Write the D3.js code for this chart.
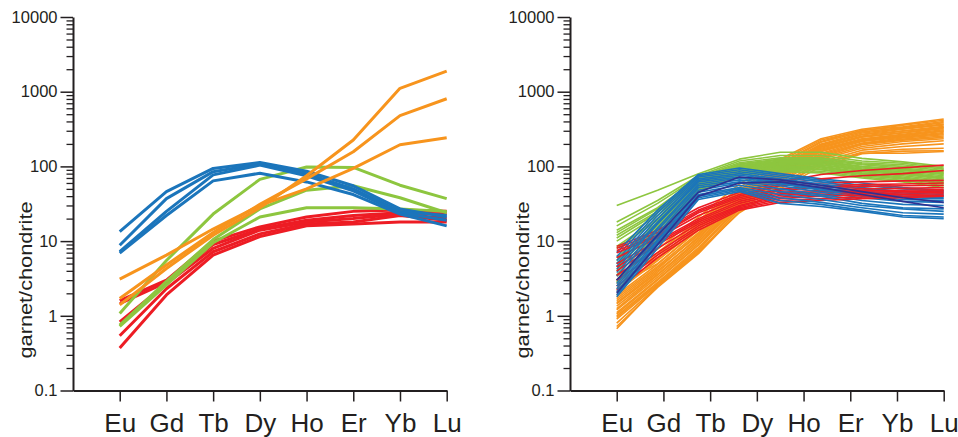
<!DOCTYPE html>
<html>
<head>
<meta charset="utf-8">
<script src="https://cdn.jsdelivr.net/npm/d3@7"></script>
<style>
  body { margin: 0; background: #fff; }
  text { font-family: "Liberation Sans", Arial, Helvetica, sans-serif; fill: #231f20; }
</style>
</head>
<body>
<svg id="chart" width="958" height="437"></svg>
<script>
// element labels on the x axis
const elements = ["Eu", "Gd", "Tb", "Dy", "Ho", "Er", "Yb", "Lu"];
// right panel has one more point per line (Tm), spread evenly over the same span
const rightElements = ["Eu", "Gd", "Tb", "Dy", "Ho", "Er", "Tm", "Yb", "Lu"];
const yTicks = [0.1, 1, 10, 100, 1000, 10000];

const colors = { blue: "#1b75bb", orange: "#f7941d", green: "#8dc63f", red: "#ed1c24", navy: "#2e3192" };

// ---- left panel (Eu Gd Tb Dy Ho Er Yb Lu) ----
const leftRed = [
  [1.6, 3.0, 10, 15.5, 21, 25, 26, 25],
  [1.45, 2.8, 9, 14.5, 19, 22, 24, 23],
  [0.83, 2.7, 8, 14, 18, 20, 23, 20],
  [0.54, 2.3, 7.2, 12.5, 17, 18, 22, 19],
  [0.37, 1.9, 6.5, 11.5, 16, 17, 18, 18],
];
const leftGreen = [
  [1.07, 5.5, 23, 67, 98, 97, 56, 37],
  [0.75, 2.9, 10.5, 27, 48, 55, 38, 24],
  [0.72, 2.6, 9.5, 21, 28, 28, 27, 25],
];
const leftBlue = [
  [13.4, 46, 94, 113, 86, 55, 27, 21],
  [8.8, 37, 85, 108, 80, 50, 25, 22],
  [7.2, 25, 77, 104, 75, 47, 24, 19],
  [6.9, 22, 64, 81, 62, 42, 23, 16],
];
const leftOrange = [
  [3.1, 6.5, 14.5, 30, 50, 94, 195, 242],
  [1.7, 4.8, 13, 31, 68, 157, 478, 805],
  [1.4, 4.3, 12, 28, 75, 226, 1110, 1890],
];

// ---- right panel (Eu Gd Tb Dy Ho Er Tm Yb Lu) ----
const rightOrange = [
  [3.4, 7.8, 21, 58, 125, 235, 315, 365, 430],
  [3.0, 7.0, 19, 52, 118, 225, 300, 355, 415],
  [2.7, 6.6, 18, 48, 110, 215, 305, 340, 400],
  [2.9, 6.0, 16, 44, 105, 210, 290, 330, 385],
  [2.3, 5.8, 17, 46, 100, 200, 280, 320, 370],
  [2.1, 5.5, 15, 42, 98, 195, 270, 315, 360],
  [2.5, 5.0, 14, 40, 95, 190, 265, 300, 345],
  [1.9, 4.9, 14.5, 41, 92, 185, 255, 295, 335],
  [1.8, 4.6, 13, 38, 90, 180, 250, 285, 330],
  [1.7, 4.4, 12, 36, 88, 175, 245, 280, 320],
  [1.6, 4.2, 12.5, 37, 85, 170, 235, 270, 310],
  [1.5, 4.0, 11, 35, 82, 165, 230, 262, 300],
  [1.45, 3.8, 11.5, 34, 80, 160, 225, 255, 295],
  [1.35, 3.6, 10.5, 33, 78, 158, 220, 250, 285],
  [1.25, 3.5, 10, 32, 75, 150, 215, 245, 275],
  [1.2, 3.3, 9.5, 31, 72, 145, 205, 240, 265],
  [1.1, 3.1, 9, 30, 70, 140, 200, 232, 255],
  [1.05, 3.0, 8.8, 31, 68, 135, 195, 225, 245],
  [1.0, 2.8, 8.2, 29, 65, 130, 185, 215, 235],
  [0.95, 2.7, 7.8, 28, 62, 125, 175, 200, 220],
  [0.9, 2.6, 7.5, 30, 58, 115, 165, 185, 200],
  [0.8, 2.5, 7.0, 27, 55, 108, 155, 170, 175],
  [0.72, 2.4, 6.8, 25, 50, 100, 148, 160, 162],
  [0.67, 2.5, 7.2, 24, 52, 110, 150, 150, 158],
];
const rightRed = [
  [8.5, 14, 28, 45, 62, 78, 88, 96, 104],
  [8.0, 13, 26, 42, 58, 68, 75, 80, 88],
  [7.5, 12, 25, 40, 55, 60, 62, 64, 65],
  [7.0, 11.5, 24, 38, 50, 55, 57, 58, 60],
  [6.0, 11, 22, 36, 48, 52, 54, 55, 56],
  [5.0, 10, 20, 34, 45, 48, 50, 51, 52],
  [4.5, 9.5, 19, 32, 43, 46, 47, 48, 49],
  [4.0, 9, 18, 30, 41, 44, 45, 46, 47],
  [3.5, 8, 17, 29, 39, 42, 43, 44, 45],
  [3.0, 7, 16, 28, 37, 40, 41, 42, 43],
  [2.5, 6.5, 15, 27, 35, 37, 39, 40, 41],
  [2.2, 6, 14, 26, 33, 35, 37, 38, 40],
];
const rightGreen = [
  [30, 48, 80, 125, 155, 155, 128, 115, 100],
  [18, 35, 75, 118, 140, 140, 118, 110, 95],
  [16, 32, 72, 112, 130, 130, 112, 105, 92],
  [14, 28, 70, 108, 125, 125, 108, 100, 88],
  [13, 27, 68, 105, 122, 120, 105, 95, 85],
  [12, 25, 66, 102, 118, 118, 100, 92, 82],
  [11, 24, 64, 100, 115, 115, 98, 90, 80],
  [10, 22, 62, 98, 112, 112, 95, 88, 78],
  [8.5, 20, 60, 96, 110, 110, 92, 85, 75],
  [8, 19, 58, 94, 108, 106, 90, 82, 72],
  [6, 18, 56, 92, 105, 104, 88, 80, 70],
  [5.5, 17, 55, 90, 102, 100, 85, 78, 68],
  [5, 16, 54, 88, 100, 98, 82, 75, 65],
  [4.5, 15, 52, 86, 98, 95, 80, 72, 62],
  [4, 14, 50, 84, 95, 92, 78, 70, 60],
  [3.5, 13, 48, 82, 92, 90, 75, 68, 58],
  [3, 12, 46, 80, 88, 86, 72, 65, 55],
  [2.8, 11, 45, 76, 85, 82, 70, 62, 52],
];
const rightBlue = [
  [7, 26, 78, 95, 80, 68, 60, 52, 48],
  [6.2, 24, 75, 90, 76, 65, 56, 50, 46],
  [5.5, 22, 72, 85, 72, 62, 52, 46, 44],
  [5.0, 20, 68, 80, 68, 58, 50, 44, 42],
  [4.6, 18, 65, 76, 66, 55, 47, 42, 40],
  [4.2, 17, 62, 72, 62, 52, 44, 40, 38],
  [3.8, 15, 58, 70, 60, 50, 42, 38, 37],
  [3.4, 14, 55, 66, 58, 48, 40, 36, 35],
  [3.0, 12.5, 52, 62, 55, 45, 38, 34, 33],
  [2.7, 11.5, 48, 60, 50, 42, 35, 31, 30],
  [2.5, 10.5, 45, 56, 46, 40, 32, 28, 27],
  [2.3, 10, 42, 52, 42, 36, 30, 27, 25],
  [2.1, 9.5, 40, 50, 38, 33, 28, 24, 23],
  [1.9, 8.8, 38, 48, 35, 31, 26, 22, 21],
  [1.8, 8, 36, 46, 32, 29, 25, 21, 20],
];
const rightNavy = [
  [2.0, 9, 40, 60, 62, 52, 42, 34, 28],
  [3.0, 12, 45, 72, 66, 56, 46, 38, 33],
];

const svg = d3.select("#chart");

const y = d3.scaleLog().domain([0.1, 10000]).range([390.5, 17]);

const minorTicks = [];
for (let p = -1; p < 4; p++) {
  for (let m = 2; m <= 9; m++) minorTicks.push(m * Math.pow(10, p));
}

// mix several groups so their lines are drawn interleaved, one row from each in turn
function interleave(groups) {
  const out = [];
  const n = d3.max(groups, (grp) => grp.rows.length);
  for (let i = 0; i < n; i++) {
    groups.forEach((grp) => {
      if (grp.rows[i]) out.push({ color: grp.color, values: grp.rows[i] });
    });
  }
  return out;
}

function drawPanel(axisX, lines, pointLabels, lineWidth) {
  const g = svg.append("g");

  // category positions: axis sits one step left of Eu, last tick at Lu
  const x = d3.scaleLinear().domain([0, elements.length]).range([axisX, axisX + 373.7]);
  // data points spread evenly between Eu and Lu
  const xp = d3.scaleLinear().domain([0, pointLabels.length - 1]).range([x(1), x(elements.length)]);

  const line = d3.line()
    .x((d, i) => xp(i))
    .y((d) => y(d));

  g.append("g")
    .selectAll("path")
    .data(lines)
    .join("path")
    .attr("fill", "none")
    .attr("stroke", (d) => d.color)
    .attr("stroke-width", lineWidth)
    .attr("stroke-linejoin", "round")
    .attr("d", (d) => line(d.values));

  // y axis, major ticks
  const yAxis = g.append("g")
    .attr("transform", `translate(${axisX},0)`)
    .call(d3.axisLeft(y).tickValues(yTicks).tickSize(12.5).tickSizeOuter(0).tickPadding(3)
      .tickFormat((d) => String(d)));
  yAxis.select(".domain").attr("stroke", "#231f20").attr("stroke-width", 2);
  yAxis.selectAll(".tick line").attr("stroke", "#231f20").attr("stroke-width", 1.5);
  yAxis.selectAll(".tick text").attr("font-size", 16.5).attr("font-family", null);

  // y axis, minor ticks
  const yMinor = g.append("g")
    .attr("transform", `translate(${axisX},0)`)
    .call(d3.axisLeft(y).tickValues(minorTicks).tickSize(6.5).tickSizeOuter(0).tickFormat(""));
  yMinor.select(".domain").remove();
  yMinor.selectAll(".tick line").attr("stroke", "#231f20").attr("stroke-width", 1.3);

  // x axis
  const xAxis = g.append("g")
    .attr("transform", `translate(0,${y(0.1)})`)
    .call(d3.axisBottom(x).tickValues(d3.range(1, elements.length + 1)).tickSize(11)
      .tickSizeOuter(0).tickPadding(12.5).tickFormat((i) => elements[i - 1]));
  xAxis.select(".domain").attr("stroke", "#231f20").attr("stroke-width", 2);
  xAxis.selectAll(".tick line").attr("stroke", "#231f20").attr("stroke-width", 1.5);
  xAxis.selectAll(".tick text").attr("font-size", 26).attr("font-family", null);

  // y title
  g.append("text")
    .attr("transform", `translate(${axisX - 47},280) rotate(-90)`)
    .attr("text-anchor", "middle")
    .attr("dy", "0.35em")
    .attr("font-size", 18)
    .attr("textLength", 157)
    .attr("lengthAdjust", "spacingAndGlyphs")
    .text("garnet/chondrite");
}

drawPanel(73, [
  ...leftRed.map((v) => ({ color: colors.red, values: v })),
  ...leftGreen.map((v) => ({ color: colors.green, values: v })),
  ...leftBlue.map((v) => ({ color: colors.blue, values: v })),
  ...leftOrange.map((v) => ({ color: colors.orange, values: v })),
], elements, 3);

drawPanel(570, [
  ...rightOrange.map((v) => ({ color: colors.orange, values: v })),
  ...rightGreen.map((v) => ({ color: colors.green, values: v })),
  ...interleave([
    { color: colors.red, rows: rightRed },
    { color: colors.blue, rows: rightBlue },
  ]),
  ...rightNavy.map((v) => ({ color: colors.navy, values: v })),
], rightElements, 1.6);
</script>
</body>
</html>
